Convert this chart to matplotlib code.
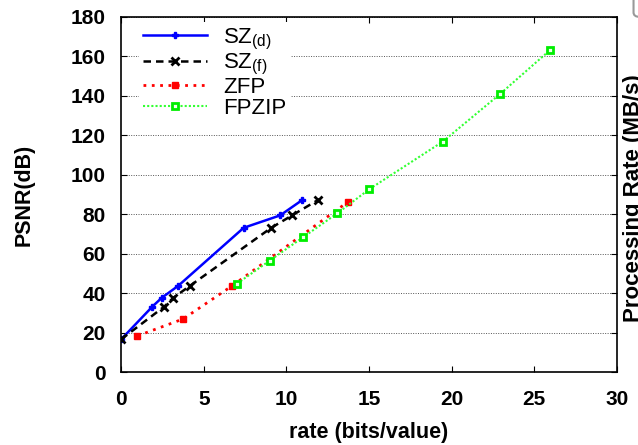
import matplotlib
matplotlib.use("Agg")
import matplotlib.pyplot as plt
from matplotlib.patches import FancyBboxPatch

# ---- data ----
sz_d_rate = [0.0, 1.89, 2.45, 3.45, 7.41, 9.62, 10.94]
sz_d_psnr = [16.6, 33.2, 37.6, 43.7, 73.1, 79.4, 87.1]

sz_f_rate = [0.0, 2.61, 3.15, 4.16, 9.08, 10.34, 11.89]
sz_f_psnr = [16.6, 33.2, 37.6, 43.7, 73.1, 79.4, 87.1]

zfp_rate = [0.98, 3.75, 6.73, 13.7]
zfp_psnr = [18.3, 26.9, 43.8, 86.1]

fpzip_rate = [7.01, 8.99, 11.02, 13.07, 15.0, 19.46, 22.95, 25.94]
fpzip_psnr = [44.8, 56.5, 68.4, 80.4, 92.6, 116.8, 141.1, 163.1]

xticks = [0, 5, 10, 15, 20, 25, 30]
yticks = [0, 20, 40, 60, 80, 100, 120, 140, 160, 180]

plt.rcParams['font.family'] = ['Liberation Sans', 'DejaVu Sans']
plt.rcParams['mathtext.default'] = 'regular'

fig = plt.figure(figsize=(6.38, 4.45), dpi=100)
ax = fig.add_axes([0.19, 0.164, 0.777, 0.798])

ax.plot(sz_d_rate, sz_d_psnr, color='#0000ff', linestyle='-', linewidth=1.8,
        marker='P', markersize=5, label='SZ$_{(d)}$')
ax.plot(sz_f_rate, sz_f_psnr, color='black', linestyle=(0, (3, 2)), linewidth=1.8,
        marker='x', markersize=6, markeredgewidth=2, label='SZ$_{(f)}$')
ax.plot(zfp_rate, zfp_psnr, color='#ff0000', linestyle=(0, (1, 2)), linewidth=2,
        marker='s', markersize=5, label='ZFP')
ax.plot(fpzip_rate, fpzip_psnr, color='#33ff33', linestyle=(0, (1, 1)), linewidth=1.5,
        marker='s', markersize=5, markerfacecolor='#eeffee', markeredgecolor='#00ee00',
        markeredgewidth=2, label='FPZIP')

ax.set_xlim(0, 30)
ax.set_ylim(0, 180)
ax.set_xticks(xticks)
ax.set_yticks(yticks)
ax.set_xticklabels([str(v) for v in xticks], fontsize=15, fontweight='bold')
ax.set_yticklabels([str(v) for v in yticks], fontsize=15, fontweight='bold')
ax.tick_params(axis='y', direction='in', length=4, width=0.8, right=True, pad=11)
ax.tick_params(axis='x', direction='in', length=4, width=0.8, top=True, pad=13)
ax.yaxis.grid(True, linestyle=(0, (1, 1.5)), color='#555555', linewidth=0.7)
for s in ax.spines.values():
    s.set_linewidth(1.2)

ax.set_xlabel('rate (bits/value)', fontsize=15.5, fontweight='bold', labelpad=9)
ax.set_ylabel('PSNR(dB)', fontsize=15.5, fontweight='bold', labelpad=26)

leg = ax.legend(loc='upper left', bbox_to_anchor=(0.035, 0.985), frameon=True,
                fontsize=16, handlelength=2.9, handletextpad=0.7,
                labelspacing=0.0, borderpad=0.2, borderaxespad=0.0)
leg.get_frame().set_edgecolor('none')
leg.get_frame().set_facecolor('white')
leg.get_frame().set_alpha(1.0)
leg.get_frame().set_boxstyle('square', pad=0)

# cut-off right label from neighbouring panel
fig.text(0.9765, 0.555, 'Processing Rate (MB/s)', rotation=90, fontsize=16,
         fontweight='bold', ha='left', va='center')
fig.patches.append(FancyBboxPatch((0.993, 0.962), 0.05, 0.08,
                                  boxstyle='round,pad=0,rounding_size=0.01',
                                  transform=fig.transFigure, facecolor='white',
                                  edgecolor='#999999', linewidth=1.5, figure=fig))

fig.savefig('out.png', dpi=100)
